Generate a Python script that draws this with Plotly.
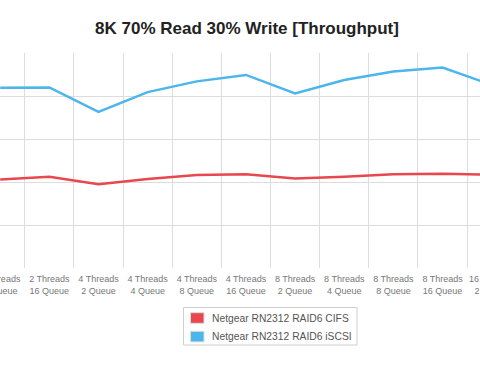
import plotly.graph_objects as go

categories = [
    "2 Threads<br>8 Queue", "2 Threads<br>16 Queue",
    "4 Threads<br>2 Queue", "4 Threads<br>4 Queue", "4 Threads<br>8 Queue", "4 Threads<br>16 Queue",
    "8 Threads<br>2 Queue", "8 Threads<br>4 Queue", "8 Threads<br>8 Queue", "8 Threads<br>16 Queue",
    "16 Threads<br>2 Queue",
]
cifs = [20.6, 21.2, 19.5, 20.7, 21.6, 21.8, 20.8, 21.2, 21.8, 21.9, 21.7]
iscsi = [41.9, 42.0, 36.3, 40.9, 43.4, 44.9, 40.6, 43.7, 45.7, 46.6, 42.6]
series_names = ["Netgear RN2312 RAID6 CIFS", "Netgear RN2312 RAID6 iSCSI"]
colors = ["#e8474d", "#4cb6ec"]

W, H = 500, 375
T, B = 53, 107
PH = H - T - B

def fx(p):
    return p / W

def fy(p):
    return (H - B - p) / PH

fig = go.Figure()
for name, vals, col in zip(series_names, [cifs, iscsi], colors):
    fig.add_trace(go.Scatter(x=categories, y=vals, mode="lines", name=name,
                             line=dict(color=col, width=2.5), showlegend=False))

# legend (drawn to match the reference's compact box)
shapes = [dict(type="rect", xref="paper", yref="paper", x0=fx(183.5), x1=fx(357), y0=fy(307.5), y1=fy(345),
               line=dict(color="#cfcfcf", width=1), fillcolor="rgba(0,0,0,0)")]
annotations = []
for i, (name, col) in enumerate(zip(series_names, colors)):
    cy = 318 + i * 18.6
    shapes.append(dict(type="rect", xref="paper", yref="paper", x0=fx(190.5), x1=fx(204), y0=fy(cy - 5.3), y1=fy(cy + 5.3),
                       line=dict(color="#dddddd", width=1), fillcolor=col))
    annotations.append(dict(text=name, xref="paper", yref="paper", x=fx(209.5), y=fy(cy), xanchor="left",
                            yanchor="middle", showarrow=False, font=dict(size=10.3, color="#555555")))

fig.update_layout(
    width=W, height=H,
    margin=dict(l=0, r=0, t=T, b=B),
    paper_bgcolor="white", plot_bgcolor="white",
    font=dict(family="Liberation Sans, Arial, sans-serif", color="#666666"),
    title=dict(text="<b>8K 70% Read 30% Write [Throughput]</b>", x=247 / W, xanchor="center",
               y=1 - 28 / H, yanchor="middle", font=dict(size=17, color="#222222")),
    xaxis=dict(type="category", range=[-0.004, W / 49.15 - 0.004], tickson="boundaries", showgrid=True,
               gridcolor="#dddddd", gridwidth=1, ticks="", showline=False, zeroline=False,
               tickangle=0, automargin=False, ticklabelstandoff=4,
               tickfont=dict(size=9, color="#777777")),
    yaxis=dict(range=[0, 50], dtick=10, showgrid=True, gridcolor="#dddddd", gridwidth=1,
               showticklabels=False, zeroline=False, showline=False, automargin=False),
    showlegend=False,
    shapes=shapes,
    annotations=annotations,
)
fig.write_html(
    "out.html",
    config={"displayModeBar": False},
    post_script="document.body.style.margin='0';document.body.style.overflow='hidden';"
                "document.documentElement.style.overflow='hidden';",
)
